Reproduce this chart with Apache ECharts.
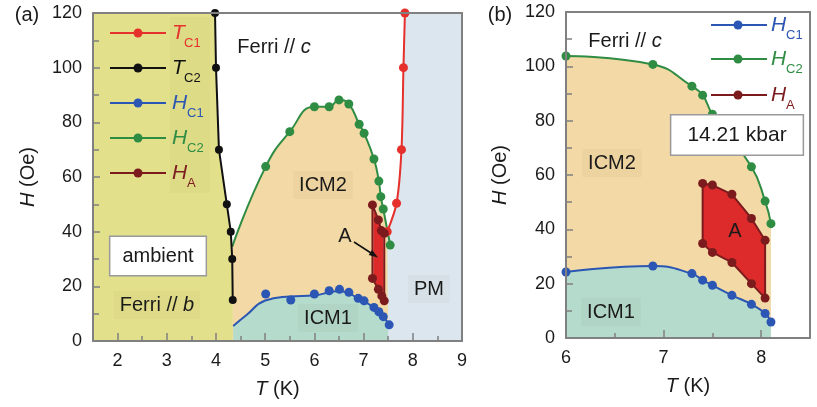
<!DOCTYPE html>
<html>
<head>
<meta charset="utf-8">
<script src="https://cdn.jsdelivr.net/npm/echarts@6/dist/echarts.min.js"></script>
<style>
  html, body { margin: 0; padding: 0; background: #fff; }
  #chart { width: 817px; height: 407px; }
</style>
</head>
<body>
<div id="chart"></div>
<script>
// ---------- panel (a): ambient ----------
const tc1A = [[7.48, 40], [7.67, 50.4], [7.77, 70], [7.81, 100], [7.84, 120]];
const tc2A = [[3.98, 120], [4.0, 100], [4.06, 70], [4.22, 50], [4.3, 40], [4.33, 30], [4.34, 15]];
const hc1A = [[5.01, 17.2], [5.52, 15], [6.0, 17.2], [6.3, 18.4], [6.51, 18.9], [6.7, 17.8],
  [6.89, 15.6], [7.01, 14.7], [7.21, 12.3], [7.31, 10.7], [7.4, 8.9], [7.52, 5.9]];
// smooth fit drawn through the HC1 points
const hc1FitA = [[4.35, 5.5], [4.62, 9.5], [5.0, 14.8], [5.5, 16.3], [6.0, 16.7], [6.3, 17.8],
  [6.5, 18.3], [6.7, 17.5], [6.9, 15.4], [7.0, 14.6], [7.2, 12.3], [7.3, 10.7], [7.4, 8.9], [7.52, 5.9]];
const hc2StartA = [4.33, 34.5];
const hc2A = [[5.01, 63.8], [5.5, 76.6], [6.0, 85.7], [6.3, 85.7], [6.5, 88.2], [6.7, 86.7],
  [6.91, 79.3], [7.01, 76], [7.21, 66.6], [7.31, 58.5], [7.35, 52.8], [7.4, 48.3], [7.54, 35.1]];
const haA = [[7.18, 49.8], [7.3, 44.3], [7.36, 40.4], [7.42, 39.4], [7.42, 14.7], [7.37, 16.5], [7.3, 18.9], [7.18, 22.9]];
const pocketA = [[7.2, 48], [7.3, 44], [7.4, 40], [7.41, 15], [7.3, 19], [7.2, 23]];
const xTicksA = [2, 3, 4, 5, 6, 7, 8, 9];
const xMinorA = [2.5, 3.5, 4.5, 5.5, 6.5, 7.5, 8.5];

// ---------- panel (b): 14.21 kbar ----------
const hc1B = [[6.0, 24.3], [6.89, 26.5], [7.29, 23.7], [7.4, 21.3], [7.5, 19.4], [7.7, 15.7], [7.9, 12.4], [8.04, 9.0], [8.1, 5.9]];
const hc2B = [[6.0, 103.8], [6.89, 100.7], [7.29, 92.7], [7.4, 89.4], [7.5, 82.4], [7.9, 63], [8.04, 50.4], [8.1, 42.1]];
const haB = [[7.4, 56.9], [7.5, 56.3], [7.7, 52.9], [7.9, 44], [8.04, 36], [8.04, 14.7], [7.9, 20], [7.7, 27.8], [7.5, 31.5], [7.4, 34.8]];

const FONT = '"Liberation Sans", Arial, Helvetica, sans-serif';
const C = {
  yellow: '#e3e08b', tan: '#f2d9a5', teal: '#b4dbcb', pm: '#dbe6ef', pocket: '#dd2b2b',
  red: '#e5302c', black: '#111111', blue: '#2b56b3', green: '#2f8c43', darkred: '#7b1b1e',
  frame: '#808080', text: '#1a1a1a'
};

var myChart = echarts.init(document.getElementById('chart'));

function polygon(pts, color, xi, yi, z) {
  return {
    type: 'custom', xAxisIndex: xi, yAxisIndex: yi, z: z, silent: true, clip: true,
    data: [pts[0]],
    renderItem: function (params, api) {
      return { type: 'polygon', shape: { points: pts.map(p => api.coord(p)) }, style: { fill: color } };
    }
  };
}
function area(pts, color, xi, yi, z) {
  return {
    type: 'line', xAxisIndex: xi, yAxisIndex: yi, z: z, silent: true, data: pts,
    smooth: true, symbol: 'none', lineStyle: { width: 0 }, areaStyle: { color: color, opacity: 1 }
  };
}
function curve(pts, color, xi, yi, size, smooth, showSym) {
  return {
    type: 'line', xAxisIndex: xi, yAxisIndex: yi, z: 5, silent: true, clip: false, data: pts,
    smooth: smooth, symbol: showSym === false ? 'none' : 'circle', symbolSize: size,
    lineStyle: { color: color, width: 2 }, itemStyle: { color: color }
  };
}
function marks(pts, color, xi, yi, size) {
  return {
    type: 'scatter', xAxisIndex: xi, yAxisIndex: yi, z: 6, silent: true, data: pts,
    symbol: 'circle', symbolSize: size, itemStyle: { color: color, opacity: 1 }
  };
}
function closed(pts) {
  return pts.concat([{ value: pts[0], symbol: 'none' }]);
}

// legend drawn by hand (italic letter + subscript)
function legendRows(rows, x1, x2, cx, tx) {
  const out = [];
  rows.forEach(r => {
    out.push({ type: 'line', shape: { x1: x1, y1: r.y, x2: x2, y2: r.y }, style: { stroke: r.c, lineWidth: 2 }, z: 20 });
    out.push({ type: 'circle', shape: { cx: cx, cy: r.y, r: 4.5 }, style: { fill: r.c }, z: 21 });
    out.push({ type: 'text', x: tx, y: r.y, z: 21,
      style: { text: r.m, fill: r.c, fontSize: 21, fontFamily: FONT, fontStyle: 'italic', align: 'left', verticalAlign: 'middle' } });
    out.push({ type: 'text', x: tx + (r.m === 'T' ? 12 : 15), y: r.y + 10, z: 21,
      style: { text: r.s, fill: r.c, fontSize: 13, fontFamily: FONT, align: 'left', verticalAlign: 'middle' } });
  });
  return out;
}
function label(x, y, text, extra) {
  return { type: 'text', x: x, y: y, z: 20,
    style: Object.assign({ text: text, fill: C.text, fontSize: 20, fontFamily: FONT, align: 'center', verticalAlign: 'middle' }, extra || {}) };
}
const ferriRich = {
  n: { fontSize: 20, fontFamily: FONT, fill: C.text },
  i: { fontSize: 20, fontFamily: FONT, fill: C.text, fontStyle: 'italic' }
};
const shade = 'rgba(110,90,40,0.045)';

const graphics = [].concat(
  [{ type: 'rect', shape: { x: 170, y: 17, width: 40, height: 176 }, style: { fill: 'rgba(90,90,40,0.04)' }, z: 19 }],
  legendRows([
    { m: 'T', s: 'C1', c: C.red, y: 33 },
    { m: 'T', s: 'C2', c: C.black, y: 68 },
    { m: 'H', s: 'C1', c: C.blue, y: 103 },
    { m: 'H', s: 'C2', c: C.green, y: 138 },
    { m: 'H', s: 'A', c: C.darkred, y: 173 }
  ], 110, 166, 138, 172),
  legendRows([
    { m: 'H', s: 'C1', c: C.blue, y: 25 },
    { m: 'H', s: 'C2', c: C.green, y: 59 },
    { m: 'H', s: 'A', c: C.darkred, y: 95 }
  ], 711, 767, 738, 771),
  [
    label(27, 15, '(a)'),
    label(500, 15, '(b)'),
    label(274, 47, '{n|Ferri // }{i|c}', { rich: ferriRich }),
    label(323, 185, 'ICM2', { backgroundColor: shade, padding: [4, 6] }),
    label(158, 256, 'ambient', { backgroundColor: '#fff', borderColor: '#9a9a9a', borderWidth: 1.5, padding: [9, 12, 9, 12] }),
    label(157, 305, '{n|Ferri // }{i|b}', { rich: ferriRich, backgroundColor: shade, padding: [4, 6] }),
    label(328, 318, 'ICM1', { backgroundColor: shade, padding: [4, 6] }),
    label(429, 289, 'PM', { backgroundColor: shade, padding: [4, 6] }),
    label(345, 236, 'A'),
    { type: 'line', shape: { x1: 354, y1: 242, x2: 371, y2: 253 }, style: { stroke: '#111', lineWidth: 1.5 }, z: 20 },
    { type: 'polygon', shape: { points: [[378, 257.5], [368.7, 255.1], [372.0, 250.1]] }, style: { fill: '#111' }, z: 20 },
    label(625, 41, '{n|Ferri // }{i|c}', { rich: ferriRich }),
    label(737, 135, '14.21 kbar', { fontSize: 21, backgroundColor: '#fff', borderColor: '#9a9a9a', borderWidth: 1.5, padding: [9, 16, 9, 16] }),
    label(612, 163, 'ICM2', { backgroundColor: shade, padding: [4, 6] }),
    label(611, 312, 'ICM1', { backgroundColor: shade, padding: [4, 6] }),
    label(735, 231, 'A')
  ]
);

const tickLabel = { fontSize: 18, fontFamily: FONT, color: C.text };
const frameLine = { onZero: false, lineStyle: { color: C.frame, width: 2 } };
const tickLine = { color: C.frame, width: 1.5 };
const nameStyle = {
  fontSize: 20, fontFamily: FONT, color: C.text,
  rich: { i: { fontSize: 20, fontFamily: FONT, color: C.text, fontStyle: 'italic' } }
};
function frameAxis(grid, pos, min, max) {
  return { gridIndex: grid, type: 'value', position: pos, min: min, max: max, z: 8,
    axisLine: frameLine, axisTick: { show: false }, axisLabel: { show: false }, splitLine: { show: false } };
}

// axis indices: x 0 = (a) bottom, 1 = (a) top, 2 = (b) bottom, 3 = (b) top, 4 = (a) minor ticks (overlay grid)
//               y 0 = (a) left, 1 = (a) right, 2 = (b) left, 3 = (b) right, 4 = overlay grid (hidden)
let option = {
  animation: false,
  backgroundColor: '#fff',
  grid: [
    { left: 93, top: 13, width: 369, height: 328 },
    { left: 566, top: 12, width: 244, height: 326 },
    { left: 93, top: 13, width: 369, height: 328 }
  ],
  xAxis: [
    { gridIndex: 0, type: 'value', position: 'bottom', min: 1.5, max: 9, z: 8,
      axisLine: frameLine,
      axisTick: { inside: true, length: 8, customValues: xTicksA, lineStyle: tickLine },
      axisLabel: Object.assign({ customValues: xTicksA, margin: 11 }, tickLabel),
      splitLine: { show: false },
      name: '{i|T} (K)', nameLocation: 'middle', nameGap: 38, nameTextStyle: nameStyle },
    frameAxis(0, 'top', 1.5, 9),
    { gridIndex: 1, type: 'value', position: 'bottom', min: 6, max: 8.5, interval: 1, z: 8,
      axisLine: frameLine,
      axisTick: { inside: true, length: 8, lineStyle: tickLine },
      minorTick: { show: true, splitNumber: 2, length: 5, lineStyle: tickLine },
      axisLabel: Object.assign({ margin: 11, showMaxLabel: false }, tickLabel),
      splitLine: { show: false },
      name: '{i|T} (K)', nameLocation: 'middle', nameGap: 38, nameTextStyle: nameStyle },
    frameAxis(1, 'top', 6, 8.5),
    { gridIndex: 2, type: 'value', position: 'bottom', min: 1.5, max: 9, z: 8,
      axisLine: { show: false },
      axisTick: { inside: true, length: 5, customValues: xMinorA, lineStyle: tickLine },
      axisLabel: { show: false }, splitLine: { show: false } }
  ],
  yAxis: [
    { gridIndex: 0, type: 'value', position: 'left', min: 0, max: 120, interval: 20, z: 8,
      axisLine: frameLine,
      axisTick: { inside: true, length: 7, lineStyle: tickLine },
      minorTick: { show: true, splitNumber: 2, length: 6, lineStyle: tickLine },
      axisLabel: Object.assign({ margin: 11 }, tickLabel),
      splitLine: { show: false },
      name: '{i|H} (Oe)', nameLocation: 'middle', nameRotate: 90, nameGap: 55, nameTextStyle: nameStyle },
    frameAxis(0, 'right', 0, 120),
    { gridIndex: 1, type: 'value', position: 'left', min: 0, max: 120, interval: 20, z: 8,
      axisLine: frameLine,
      axisTick: { inside: true, length: 7, lineStyle: tickLine },
      minorTick: { show: true, splitNumber: 2, length: 6, lineStyle: tickLine },
      axisLabel: Object.assign({ margin: 11 }, tickLabel),
      splitLine: { show: false },
      name: '{i|H} (Oe)', nameLocation: 'middle', nameRotate: 90, nameGap: 56, nameTextStyle: nameStyle },
    frameAxis(1, 'right', 0, 120),
    { gridIndex: 2, type: 'value', min: 0, max: 120, show: false }
  ],
  graphic: graphics,
  series: [
    // panel (a) regions
    area([hc2StartA].concat(hc2A), C.tan, 0, 0, 1),
    area(hc1FitA, C.teal, 0, 0, 2),
    polygon([[1.5, 0], [1.5, 120]].concat(tc2A, [[4.34, 0]]), C.yellow, 0, 0, 2),
    polygon([[7.5, 0]].concat(tc1A, [[9, 120], [9, 0]]), C.pm, 0, 0, 2),
    polygon(pocketA, C.pocket, 0, 0, 3),
    // panel (a) boundaries
    curve(hc1FitA, C.blue, 0, 0, 0, true, false),
    marks(hc1A, C.blue, 0, 0, 9),
    curve([{ value: hc2StartA, symbol: 'none' }].concat(hc2A), C.green, 0, 0, 9, true),
    curve(tc2A, C.black, 0, 0, 8, false),
    curve(tc1A, C.red, 0, 0, 9, 0.3),
    curve(closed(haA), C.darkred, 0, 0, 9, false),
    // panel (b) regions
    area(hc2B, C.tan, 2, 2, 1),
    area(hc1B, C.teal, 2, 2, 2),
    polygon(haB, C.pocket, 2, 2, 3),
    // panel (b) boundaries
    curve(hc1B, C.blue, 2, 2, 9, true),
    curve(hc2B, C.green, 2, 2, 9, true),
    curve(closed(haB), C.darkred, 2, 2, 9, false)
  ]
};

myChart.setOption(option);
</script>
</body>
</html>
